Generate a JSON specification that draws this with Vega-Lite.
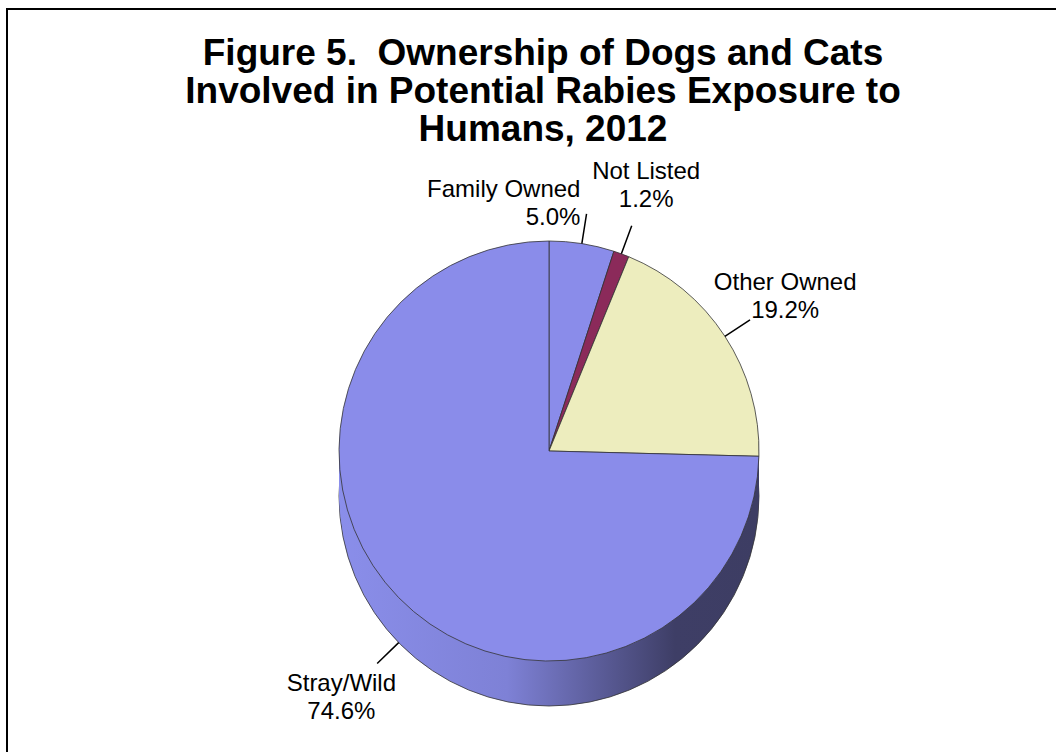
{
  "$schema": "https://vega.github.io/schema/vega-lite/v6.json",
  "autosize": {"type": "fit", "contains": "padding"},
  "width": 1056,
  "height": 752,
  "padding": {"left": 6, "top": 8, "right": 0, "bottom": 0},
  "background": "white",
  "config": {"view": {"stroke": null}, "text": {"font": "Liberation Sans"}},
  "title": {
    "text": ["Figure 5.\u00a0 Ownership of Dogs and Cats", "Involved in Potential Rabies Exposure to", "Humans, 2012"],
    "font": "Liberation Sans", "fontSize": 37, "fontWeight": "bold", "lineHeight": 38,
    "color": "black", "offset": -141, "dx": 12, "anchor": "middle"
  },
  "data": {"values": [
    {"category": "Family Owned", "pct": 5.0, "order": 1},
    {"category": "Not Listed", "pct": 1.2, "order": 2},
    {"category": "Other Owned", "pct": 19.2, "order": 3},
    {"category": "Stray/Wild", "pct": 74.6, "order": 4}
  ]},
  "transform": [
    {"window": [{"op": "sum", "field": "pct", "as": "cum"}], "sort": [{"field": "order"}], "frame": [null, 0]},
    {"calculate": "datum.cum - datum.pct", "as": "start"},
    {"calculate": "datum.cum - datum.pct / 2", "as": "mid"},
    {"calculate": "datum.category + '\\n' + format(datum.pct, '.1f') + '%'", "as": "label"}
  ],
  "layer": [
    {"transform": [{"filter": "datum.order == 4"}], "mark": {"type": "rect", "clip": true, "fill": null, "stroke": "black", "strokeWidth": 4, "x": 0, "y": 0, "x2": {"expr": "width + 20"}, "y2": {"expr": "height + 20"}}, "encoding": {}},
    {"transform": [{"filter": "datum.order == 4"}], "mark": {"type": "arc", "radius": 210, "theta": 0, "theta2": 6.2832, "xOffset": 18, "yOffset": 116, "stroke": "#333", "strokeWidth": 0.8, "fill": {"gradient": "linear", "x1": 0, "x2": 1, "y1": 0, "y2": 0, "stops": [{"offset": 0, "color": "#8a8eea"}, {"offset": 0.4, "color": "#7e81d6"}, {"offset": 0.8, "color": "#3e3e66"}, {"offset": 1, "color": "#3d3d63"}]}}, "encoding": {}},
    {"transform": [{"filter": "datum.order == 4"}], "mark": {"type": "arc", "radius": 210, "theta": 0, "theta2": 6.2832, "xOffset": 18, "yOffset": 111, "fill": {"gradient": "linear", "x1": 0, "x2": 1, "y1": 0, "y2": 0, "stops": [{"offset": 0, "color": "#8a8eea"}, {"offset": 0.4, "color": "#7e81d6"}, {"offset": 0.8, "color": "#3e3e66"}, {"offset": 1, "color": "#3d3d63"}]}}, "encoding": {}},
    {"transform": [{"filter": "datum.order == 4"}], "mark": {"type": "arc", "radius": 210, "theta": 0, "theta2": 6.2832, "xOffset": 18, "yOffset": 106, "fill": {"gradient": "linear", "x1": 0, "x2": 1, "y1": 0, "y2": 0, "stops": [{"offset": 0, "color": "#8a8eea"}, {"offset": 0.4, "color": "#7e81d6"}, {"offset": 0.8, "color": "#3e3e66"}, {"offset": 1, "color": "#3d3d63"}]}}, "encoding": {}},
    {"transform": [{"filter": "datum.order == 4"}], "mark": {"type": "arc", "radius": 210, "theta": 0, "theta2": 6.2832, "xOffset": 18, "yOffset": 101, "fill": {"gradient": "linear", "x1": 0, "x2": 1, "y1": 0, "y2": 0, "stops": [{"offset": 0, "color": "#8a8eea"}, {"offset": 0.4, "color": "#7e81d6"}, {"offset": 0.8, "color": "#3e3e66"}, {"offset": 1, "color": "#3d3d63"}]}}, "encoding": {}},
    {"transform": [{"filter": "datum.order == 4"}], "mark": {"type": "arc", "radius": 210, "theta": 0, "theta2": 6.2832, "xOffset": 18, "yOffset": 96, "fill": {"gradient": "linear", "x1": 0, "x2": 1, "y1": 0, "y2": 0, "stops": [{"offset": 0, "color": "#8a8eea"}, {"offset": 0.4, "color": "#7e81d6"}, {"offset": 0.8, "color": "#3e3e66"}, {"offset": 1, "color": "#3d3d63"}]}}, "encoding": {}},
    {"transform": [{"filter": "datum.order == 4"}], "mark": {"type": "arc", "radius": 210, "theta": 0, "theta2": 6.2832, "xOffset": 18, "yOffset": 91, "fill": {"gradient": "linear", "x1": 0, "x2": 1, "y1": 0, "y2": 0, "stops": [{"offset": 0, "color": "#8a8eea"}, {"offset": 0.4, "color": "#7e81d6"}, {"offset": 0.8, "color": "#3e3e66"}, {"offset": 1, "color": "#3d3d63"}]}}, "encoding": {}},
    {"transform": [{"filter": "datum.order == 4"}], "mark": {"type": "arc", "radius": 210, "theta": 0, "theta2": 6.2832, "xOffset": 18, "yOffset": 86, "fill": {"gradient": "linear", "x1": 0, "x2": 1, "y1": 0, "y2": 0, "stops": [{"offset": 0, "color": "#8a8eea"}, {"offset": 0.4, "color": "#7e81d6"}, {"offset": 0.8, "color": "#3e3e66"}, {"offset": 1, "color": "#3d3d63"}]}}, "encoding": {}},
    {"transform": [{"filter": "datum.order == 4"}], "mark": {"type": "arc", "radius": 210, "theta": 0, "theta2": 6.2832, "xOffset": 18, "yOffset": 81, "fill": {"gradient": "linear", "x1": 0, "x2": 1, "y1": 0, "y2": 0, "stops": [{"offset": 0, "color": "#8a8eea"}, {"offset": 0.4, "color": "#7e81d6"}, {"offset": 0.8, "color": "#3e3e66"}, {"offset": 1, "color": "#3d3d63"}]}}, "encoding": {}},
    {"transform": [{"filter": "datum.order == 4"}], "mark": {"type": "arc", "radius": 210, "theta": 0, "theta2": 6.2832, "xOffset": 18, "yOffset": 76, "fill": {"gradient": "linear", "x1": 0, "x2": 1, "y1": 0, "y2": 0, "stops": [{"offset": 0, "color": "#8a8eea"}, {"offset": 0.4, "color": "#7e81d6"}, {"offset": 0.8, "color": "#3e3e66"}, {"offset": 1, "color": "#3d3d63"}]}}, "encoding": {}},
    {
      "mark": {"type": "arc", "radius": 210, "xOffset": 18, "yOffset": 71, "stroke": "#333", "strokeWidth": 0.8},
      "encoding": {
        "theta": {"field": "start", "type": "quantitative", "stack": null, "scale": {"domain": [0, 100], "range": [0, 6.283185307179586]}},
        "theta2": {"field": "cum"},
        "color": {"field": "category", "type": "nominal", "legend": null,
          "scale": {"domain": ["Family Owned", "Not Listed", "Other Owned", "Stray/Wild"], "range": ["#8a8cea", "#8b2a5a", "#ededbe", "#8a8cea"]}}
      }
    },
    {
      "transform": [{"filter": "datum.order != 4"}],
      "mark": {"type": "arc", "radius": 240, "radius2": 210, "xOffset": 18, "yOffset": 71, "stroke": "black", "strokeWidth": 1.5, "fill": null},
      "encoding": {"theta": {"field": "mid", "type": "quantitative"}, "theta2": {"field": "mid"}}
    },
    {
      "transform": [{"filter": "datum.order == 4"}],
      "mark": {"type": "arc", "radius": 240, "radius2": 210, "xOffset": 18, "yOffset": 116, "stroke": "black", "strokeWidth": 1.5, "fill": null},
      "encoding": {"theta": {"field": "mid", "type": "quantitative"}, "theta2": {"field": "mid"}}
    },
    {
      "transform": [{"filter": "datum.order == 2 || datum.order == 3"}],
      "mark": {"type": "text", "radius": 282, "xOffset": 18, "yOffset": 71, "dy": -14, "fontSize": 24, "lineBreak": "\n", "lineHeight": 28, "color": "black"},
      "encoding": {"theta": {"field": "mid", "type": "quantitative"}, "text": {"field": "label"}}
    },
    {
      "transform": [{"filter": "datum.order == 1"}],
      "mark": {"type": "text", "radius": 252, "xOffset": 10, "yOffset": 73, "dy": -14, "align": "right", "fontSize": 24, "lineBreak": "\n", "lineHeight": 28, "color": "black"},
      "encoding": {"theta": {"field": "mid", "type": "quantitative"}, "text": {"field": "label"}}
    },
    {
      "transform": [{"filter": "datum.order == 4"}],
      "mark": {"type": "text", "radius": 290, "xOffset": 18, "yOffset": 116, "dy": -14, "fontSize": 24, "lineBreak": "\n", "lineHeight": 28, "color": "black"},
      "encoding": {"theta": {"field": "mid", "type": "quantitative"}, "text": {"field": "label"}}
    }
  ]
}
